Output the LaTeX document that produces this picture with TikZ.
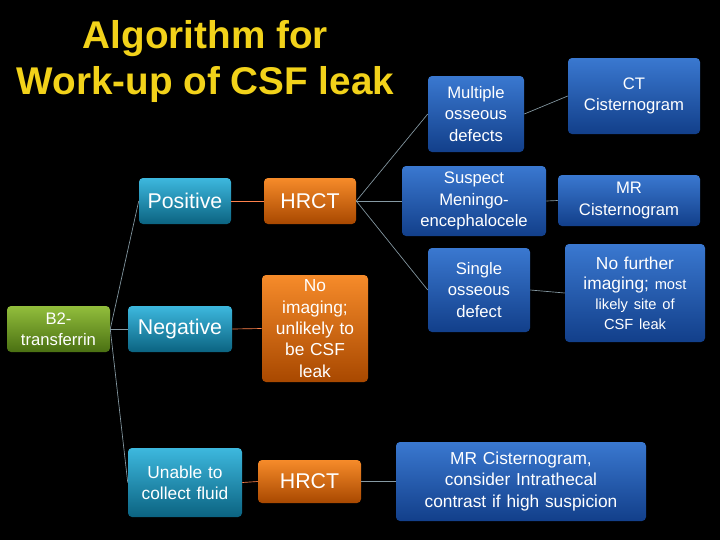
\documentclass[tikz,border=0pt]{standalone}
\usepackage{fontspec}
\setmainfont{Liberation Sans}
\usetikzlibrary{shadings}
\definecolor{ttl}{HTML}{F2D21A}
\definecolor{cyT}{HTML}{3DB8DE}\definecolor{cyB}{HTML}{0B6381}
\definecolor{ogT}{HTML}{F68B2A}\definecolor{ogB}{HTML}{A84800}
\definecolor{grT}{HTML}{92BE3C}\definecolor{grB}{HTML}{4A7012}
\definecolor{dbT}{HTML}{3A78D0}\definecolor{dbB}{HTML}{123F8A}
\tikzset{
 bx/.style={rounded corners=3pt,align=center,text=white,inner sep=1pt},
 cy/.style={bx,top color=cyT,bottom color=cyB},
 og/.style={bx,top color=ogT,bottom color=ogB},
 gr/.style={bx,top color=grT,bottom color=grB},
 db/.style={bx,top color=dbT,bottom color=dbB},
 fa/.style={font=\fontsize{16}{18}\selectfont},
 fb/.style={font=\fontsize{13}{16}\selectfont},
 fc/.style={font=\fontsize{12.5}{16}\selectfont},
 ln/.style={draw=cyan!20!gray,line width=0.5pt},
 lr/.style={draw=red!40!orange!70!white,line width=0.5pt}
}
\newcommand{\bxat}[6]{\node[#1,minimum width=#4*0.75pt-#2*0.75pt,minimum height=#5*0.75pt-#3*0.75pt,text width=#4*0.75pt-#2*0.75pt-4pt] (#6) at ({(#2+#4)/2*0.75pt},{-(#3+#5)/2*0.75pt})}
\begin{document}
\begin{tikzpicture}
\fill[black] (0,0) rectangle (540pt,-405pt);
\useasboundingbox (0,0) rectangle (540pt,-405pt);
\node[text=ttl,font=\bfseries\fontsize{29}{35}\selectfont,align=center] (title) at (154pt,-46pt) {Algorithm for\\Work-up of CSF leak};
\bxat{gr,fc}{7}{306}{110}{352}{b2} {B2-\\transferrin};
\bxat{cy,fa}{139}{178}{231}{224}{pos} {Positive};
\bxat{cy,fa}{128}{306}{232}{352}{neg} {Negative};
\bxat{cy,fb}{128}{448}{242}{517}{una} {Unable to\\collect fluid};
\bxat{og,fa}{264}{178}{356}{224}{h1} {HRCT};
\bxat{og,fb}{262}{275}{368}{382}{noi} {No\\imaging;\\unlikely to\\be CSF\\leak};
\bxat{og,fa}{258}{460}{361}{503}{h2} {HRCT};
\bxat{db,fc}{428}{76}{524}{152}{mul} {Multiple\\osseous\\defects};
\bxat{db,fc}{568}{58}{700}{134}{ct} {CT\\Cisternogram};
\bxat{db,fc}{402}{166}{546}{236}{sus} {Suspect\\Meningo-\\encephalocele};
\bxat{db,fc}{558}{175}{700}{226}{mr} {MR\\Cisternogram};
\bxat{db,fc}{428}{248}{530}{332}{sin} {Single\\osseous\\defect};
\bxat{db,font=\fontsize{13}{15}\selectfont}{565}{244}{705}{342}{nof} {No further\\imaging; {\fontsize{11}{13}\selectfont most}\\{\fontsize{11}{13}\selectfont likely site of}\\{\fontsize{11}{13}\selectfont CSF leak}};
\bxat{db,fb}{396}{442}{646}{521}{mrb} {MR Cisternogram,\\consider Intrathecal\\contrast if high suspicion};
\draw[ln] (b2.east) -- (pos.west);
\draw[ln] (b2.east) -- (neg.west);
\draw[ln] (b2.east) -- (una.west);
\draw[lr] (pos.east) -- (h1.west);
\draw[lr] (neg.east) -- (noi.west);
\draw[lr] (una.east) -- (h2.west);
\draw[ln] (h1.east) -- (mul.west);
\draw[ln] (h1.east) -- (sus.west);
\draw[ln] (h1.east) -- (sin.west);
\draw[ln] (mul.east) -- (ct.west);
\draw[ln] (sus.east) -- (mr.west);
\draw[ln] (sin.east) -- (nof.west);
\draw[ln] (h2.east) -- (mrb.west);
\end{tikzpicture}
\end{document}
